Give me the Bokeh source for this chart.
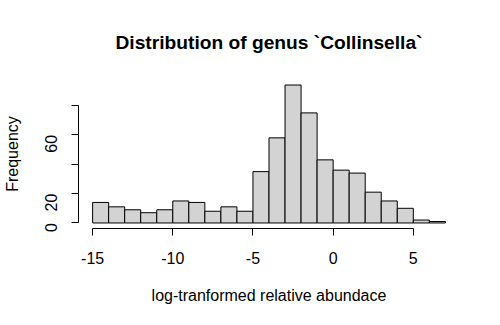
import math
from bokeh.plotting import figure
from bokeh.models import Range1d, FixedTicker
from bokeh.embed import file_html
from bokeh.resources import INLINE

# Data (histogram of log-transformed relative abundance, bin width 1)
bin_edges = [-15, -14, -13, -12, -11, -10, -9, -8, -7, -6, -5, -4, -3, -2, -1, 0, 1, 2, 3, 4, 5, 6, 7]
counts = [14, 11, 9, 7, 9, 15, 14, 8, 11, 8, 35, 58, 94, 75, 43, 36, 34, 21, 15, 10, 2, 1]
x_ticks = [-15, -10, -5, 0, 5]
x_tick_labels = ["-15", "-10", "-5", "0", "5"]
y_ticks = [0, 20, 40, 60, 80]
y_tick_labels = ["0", "20", "", "60", ""]

FONT = "Liberation Sans"

p = figure(width=484, height=309, output_backend="svg", toolbar_location=None,
           x_range=Range1d(-15.88, 7.88), y_range=Range1d(-3.76, 97.76),
           frame_width=381, frame_height=149,
           min_border_left=77, min_border_right=26, min_border_top=79, min_border_bottom=81,
           title="Distribution of genus `Collinsella`")
p.outline_line_color = None
p.xgrid.visible = False
p.ygrid.visible = False
p.background_fill_color = "white"
p.border_fill_color = "white"

p.title.align = "center"
p.title.text_font = FONT
p.title.text_font_size = "19.2px"
p.title.text_font_style = "bold"
p.title.text_color = "black"
p.title.standoff = 53

p.quad(left=bin_edges[:-1], right=bin_edges[1:], bottom=0, top=counts,
       fill_color="#D3D3D3", line_color="black", line_width=1)

for ax in (p.xaxis[0], p.yaxis[0]):
    ax.axis_line_color = "black"
    ax.major_tick_line_color = "black"
    ax.minor_tick_line_color = None
    ax.major_tick_out = 7
    ax.major_tick_in = 0
    ax.major_label_text_font = FONT
    ax.major_label_text_font_size = "16px"
    ax.major_label_text_color = "black"
    ax.axis_label_text_font = FONT
    ax.axis_label_text_font_size = "16px"
    ax.axis_label_text_font_style = "normal"
    ax.axis_label_text_color = "black"

xa = p.xaxis[0]
xa.ticker = FixedTicker(ticks=x_ticks)
xa.bounds = (-15, 5)
xa.major_label_overrides = dict(zip(x_ticks, x_tick_labels))
xa.axis_label = "log-tranformed relative abundace"
xa.major_label_standoff = 16
xa.axis_label_standoff = 20

ya = p.yaxis[0]
ya.ticker = FixedTicker(ticks=y_ticks)
ya.bounds = (0, 80)
ya.major_label_overrides = dict(zip(y_ticks, y_tick_labels))
ya.major_label_orientation = math.pi / 2
ya.axis_label = "Frequency"
ya.major_label_standoff = 20
ya.axis_label_standoff = 16

open("out.html", "w").write(file_html(p, INLINE))
